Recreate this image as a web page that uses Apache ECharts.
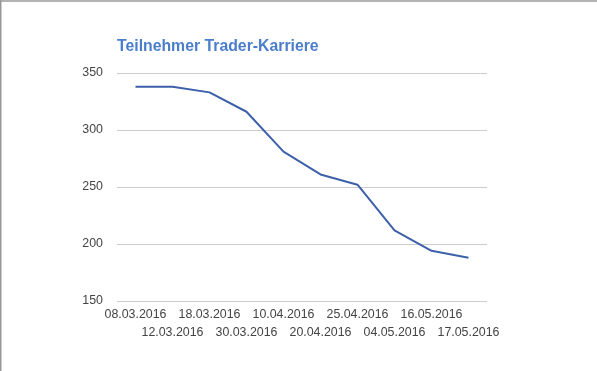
<!DOCTYPE html>
<html>
<head>
<meta charset="utf-8">
<script src="https://cdn.jsdelivr.net/npm/echarts@6/dist/echarts.min.js"></script>
<style>
html,body{margin:0;padding:0;background:#fff;}
#c{width:597px;height:371px;}
</style>
</head>
<body>
<div id="c"></div>
<script>
const titleText = 'Teilnehmer Trader-Karriere';
const categories = ['08.03.2016','12.03.2016','18.03.2016','30.03.2016','10.04.2016','20.04.2016','25.04.2016','04.05.2016','16.05.2016','17.05.2016'];
const values = [338, 338, 333, 316, 281, 261, 252, 212, 194, 188];
const yTicks = [150, 200, 250, 300, 350];

const chart = echarts.init(document.getElementById('c'), null, {renderer: 'canvas'});
const font = '"Liberation Sans", Arial, sans-serif';
chart.setOption({
  animation: false,
  backgroundColor: '#fff',
  title: {
    text: titleText,
    left: 117, top: 38.5, padding: 0,
    textStyle: {fontFamily: font, fontSize: 15.8, fontWeight: 'bold', color: '#4a7dcc'}
  },
  grid: {left: 117, right: 110, top: 73, bottom: 70, containLabel: false},
  xAxis: {
    type: 'category',
    data: categories,
    boundaryGap: true,
    axisLine: {show: false},
    axisTick: {show: false},
    axisLabel: {
      interval: 0,
      margin: 5,
      fontFamily: font,
      fontSize: 12.4,
      color: '#444',
      lineHeight: 18,
      formatter: function (v, i) { return i % 2 === 1 ? '\n' + v : v; }
    }
  },
  yAxis: {
    type: 'value',
    min: yTicks[0],
    max: yTicks[yTicks.length - 1],
    interval: 50,
    axisLine: {show: false},
    axisTick: {show: false},
    axisLabel: {margin: 14, fontFamily: font, fontSize: 12.4, color: '#444'},
    splitLine: {lineStyle: {color: '#cccccc', width: 1}}
  },
  series: [{
    type: 'line',
    data: values,
    symbol: 'none',
    lineStyle: {color: '#3d60aa', width: 2},
    itemStyle: {color: '#3d60aa'}
  }],
  graphic: [
    {type: 'line', shape: {x1: 0, y1: 1, x2: 597, y2: 1}, style: {stroke: '#999', lineWidth: 1.5}},
    {type: 'line', shape: {x1: 0.75, y1: 0, x2: 0.75, y2: 371}, style: {stroke: '#999', lineWidth: 1.5}}
  ]
});
</script>
</body>
</html>
